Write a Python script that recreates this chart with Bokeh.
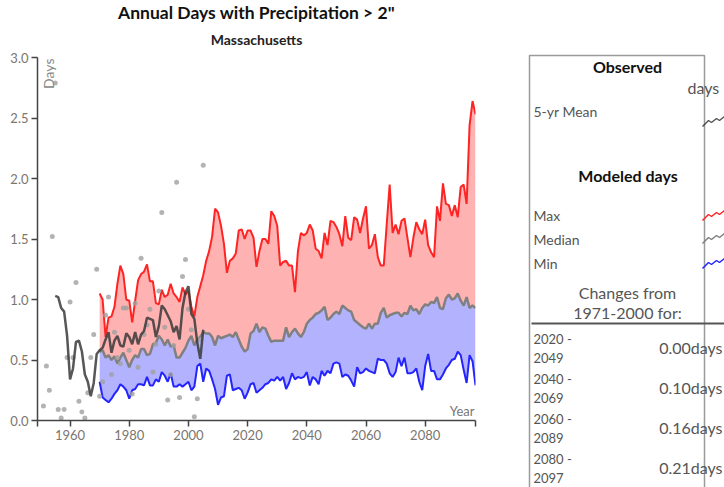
from math import pi
from bokeh.plotting import figure
from bokeh.layouts import row
from bokeh.models import Range1d, FixedTicker, Label, Title, PrintfTickFormatter
from bokeh.embed import file_html
from bokeh.resources import INLINE
from bokeh.core.properties import value

FONT = "Lato"

# ---------------- data ----------------
obs_years = list(range(1951, 2006))
obs_days = [0.12, 0.45, 0.25, 1.52, 2.79, 0.09, 0.02, 0.09, 0.52, 0.98,
            0.52, 1.14, 0.16, 0.07, 0.02, 0.23, 0.52, 0.71, 1.25, 0.20,
            0.32, 0.87, 1.02, 0.38, 0.73, 0.52, 0.47, 0.93, 0.93, 0.58,
            0.22, 0.97, 0.44, 1.34, 0.71, 0.79, 0.92, 0.40, 0.63, 1.07,
            1.72, 0.77, 0.17, 0.38, 0.62, 1.97, 0.19, 1.19, 1.33, 0.92,
            0.75, 0.03, 0.18, 0.67, 2.11]

mean_years = list(range(1955, 2006))
mean_days = [1.03, 1.02, 0.93, 0.90, 0.70, 0.34, 0.43, 0.65, 0.66, 0.57,
             0.38, 0.32, 0.20, 0.31, 0.55, 0.58, 0.60, 0.67, 0.73, 0.56,
             0.66, 0.70, 0.62, 0.61, 0.72, 0.69, 0.63, 0.73, 0.63, 0.71,
             0.74, 0.85, 0.84, 0.83, 0.69, 0.78, 0.95, 0.92, 0.87, 0.82,
             0.73, 0.78, 0.67, 0.93, 1.06, 1.11, 0.88, 0.84, 0.64, 0.51,
             0.75]

model_years = list(range(1970, 2098))
model_max = [1.05, 1.00, 0.69, 0.85, 0.86, 0.94, 1.13, 1.28, 1.21, 1.00,
             0.99, 0.81, 0.99, 1.16, 1.21, 1.23, 1.29, 1.15, 1.15, 0.97,
             0.96, 1.08, 1.02, 1.04, 1.13, 1.05, 1.02, 0.98, 1.10, 1.04,
             1.07, 0.94, 0.86, 1.02, 1.11, 1.20, 1.32, 1.40, 1.52, 1.75,
             1.72, 1.61, 1.46, 1.22, 1.32, 1.34, 1.38, 1.57, 1.58, 1.50,
             1.57, 1.57, 1.51, 1.27, 1.40, 1.50, 1.50, 1.46, 1.73, 1.69,
             1.61, 1.28, 1.31, 1.32, 1.28, 1.28, 1.06, 1.40, 1.55, 1.53,
             1.55, 1.62, 1.57, 1.42, 1.40, 1.34, 1.55, 1.45, 1.65, 1.64,
             1.60, 1.54, 1.44, 1.69, 1.51, 1.49, 1.68, 1.66, 1.55, 1.67,
             1.77, 1.42, 1.45, 1.54, 1.35, 1.28, 1.28, 1.62, 1.95, 1.55,
             1.62, 1.54, 1.65, 1.67, 1.51, 1.35, 1.51, 1.64, 1.58, 1.54,
             1.66, 1.45, 1.39, 1.35, 1.77, 1.65, 1.96, 1.79, 1.78, 1.69,
             1.78, 1.68, 1.93, 1.95, 1.79, 2.44, 2.64, 2.53]
model_median = [0.57, 0.58, 0.52, 0.54, 0.50, 0.53, 0.47, 0.52, 0.56, 0.50,
                0.44, 0.50, 0.54, 0.52, 0.59, 0.59, 0.54, 0.55, 0.63, 0.64,
                0.70, 0.67, 0.62, 0.67, 0.61, 0.62, 0.52, 0.52, 0.56, 0.60,
                0.66, 0.70, 0.62, 0.67, 0.69, 0.73, 0.72, 0.72, 0.69, 0.62,
                0.70, 0.68, 0.69, 0.70, 0.71, 0.69, 0.73, 0.67, 0.61, 0.57,
                0.59, 0.72, 0.74, 0.80, 0.73, 0.77, 0.76, 0.70, 0.65, 0.66,
                0.66, 0.66, 0.66, 0.77, 0.69, 0.73, 0.76, 0.72, 0.69, 0.73,
                0.80, 0.83, 0.85, 0.88, 0.89, 0.91, 0.94, 0.83, 0.85, 0.88,
                0.90, 0.88, 0.95, 0.93, 0.91, 0.90, 0.83, 0.81, 0.79, 0.77,
                0.76, 0.80, 0.76, 0.80, 0.80, 0.89, 0.93, 0.85, 0.87, 0.88,
                0.89, 0.89, 0.86, 0.89, 0.88, 0.95, 0.91, 0.92, 0.88, 0.93,
                0.96, 0.95, 0.98, 0.97, 1.02, 0.93, 0.92, 1.01, 1.04, 1.00,
                1.01, 1.05, 0.99, 0.95, 1.02, 0.93, 0.95, 0.93]
model_min = [0.32, 0.19, 0.17, 0.15, 0.18, 0.22, 0.25, 0.30, 0.28, 0.25,
             0.18, 0.25, 0.26, 0.30, 0.30, 0.29, 0.36, 0.29, 0.29, 0.34,
             0.32, 0.40, 0.37, 0.32, 0.39, 0.28, 0.28, 0.30, 0.28, 0.30,
             0.32, 0.25, 0.28, 0.45, 0.47, 0.32, 0.43, 0.41, 0.34, 0.26,
             0.13, 0.19, 0.20, 0.37, 0.38, 0.25, 0.26, 0.27, 0.25, 0.18,
             0.23, 0.30, 0.31, 0.23, 0.25, 0.27, 0.30, 0.31, 0.34, 0.33,
             0.36, 0.33, 0.36, 0.26, 0.31, 0.39, 0.34, 0.36, 0.35, 0.36,
             0.40, 0.29, 0.36, 0.34, 0.30, 0.41, 0.37, 0.41, 0.39, 0.47,
             0.48, 0.47, 0.36, 0.38, 0.37, 0.33, 0.28, 0.44, 0.39, 0.40,
             0.43, 0.41, 0.40, 0.39, 0.51, 0.50, 0.50, 0.47, 0.39, 0.36,
             0.40, 0.52, 0.45, 0.52, 0.39, 0.39, 0.40, 0.43, 0.32, 0.25,
             0.45, 0.55, 0.41, 0.41, 0.34, 0.34, 0.38, 0.43, 0.46, 0.50,
             0.51, 0.57, 0.54, 0.42, 0.31, 0.54, 0.49, 0.29]

x_ticks = [1949, 1960, 1980, 2000, 2020, 2040, 2060, 2080, 2097]
x_tick_labels = {1949: "", 2097: ""}
y_ticks = [0.0, 0.5, 1.0, 1.5, 2.0, 2.5, 3.0]

title_text = 'Annual Days with Precipitation > 2"'
subtitle_text = "Massachusetts"
y_label = "Days"
x_label = "Year"

legend_obs_title = "Observed"
legend_unit = "days"
legend_obs_items = ["5-yr Mean"]
legend_model_title = "Modeled days"
legend_model_items = ["Max", "Median", "Min"]
changes_title = ["Changes from", "1971-2000 for:"]
change_start = ["2020 -", "2040 -", "2060 -", "2080 -"]
change_end = ["2049", "2069", "2089", "2097"]
change_values = ["0.00days", "0.10days", "0.16days", "0.21days"]

RED = "#ff2424"
BLUE = "#2424ff"
GREY = "#808080"
DARK = "#3a3a3a"

W_MAIN, W_LEG, H = 508, 216, 487

# ---------------- main chart ----------------
p = figure(width=W_MAIN, height=H, x_range=Range1d(1949, 2097), y_range=Range1d(0, 3),
           output_backend="svg", toolbar_location=None,
           min_border_left=37, min_border_right=33, min_border_top=57, min_border_bottom=67)
p.frame_align = False
p.outline_line_color = None
p.xgrid.visible = False
p.ygrid.visible = False
p.background_fill_color = "white"
p.border_fill_color = "white"

p.add_layout(Title(text=subtitle_text, align="center", text_font=FONT, text_font_size="14px",
                   text_font_style="bold", text_color="#222222", standoff=19), "above")
p.add_layout(Title(text=title_text, align="center", text_font=FONT, text_font_size="17.5px",
                   text_font_style="bold", text_color="#111111", standoff=-6), "above")

for ax in (p.xaxis[0], p.yaxis[0]):
    ax.axis_line_color = "#444444"
    ax.axis_line_width = 1.5
    ax.major_tick_line_color = "#444444"
    ax.major_tick_line_width = 1.5
    ax.major_tick_out = 6
    ax.major_tick_in = 0
    ax.minor_tick_line_color = None
    ax.major_label_text_font = FONT
    ax.major_label_text_font_size = "13px"
    ax.major_label_text_color = "#7a7570"
    ax.major_label_standoff = 3

p.xaxis[0].ticker = FixedTicker(ticks=x_ticks)
p.xaxis[0].major_label_overrides = x_tick_labels
p.yaxis[0].ticker = FixedTicker(ticks=y_ticks)
p.yaxis[0].formatter = PrintfTickFormatter(format="%.1f")

# modeled ranges
p.varea(x=model_years, y1=model_median, y2=model_max, fill_color="#ffb2b2")
p.varea(x=model_years, y1=model_min, y2=model_median, fill_color="#b2b2ff")
p.line(model_years, model_median, line_color=GREY, line_width=2.5)
p.line(model_years, model_max, line_color=RED, line_width=2)
p.line(model_years, model_min, line_color=BLUE, line_width=2)

# observed
p.scatter(obs_years, obs_days, size=5, fill_color="#a0a0a0", line_color=None, fill_alpha=0.8)
p.line(mean_years, mean_days, line_color=DARK, line_width=2.5, line_alpha=0.85)

p.add_layout(Label(x=11, y=362, x_units="screen", y_units="screen", text=y_label, angle=pi / 2,
                   text_align="right", text_baseline="middle", text_font=FONT,
                   text_font_size="14px", text_color="#888888"))
p.add_layout(Label(x=437, y=10, x_units="screen", y_units="screen", text=x_label,
                   text_align="right", text_baseline="middle", text_font=FONT,
                   text_font_size="13px", text_color="#777777"))

# ---------------- legend panel ----------------
leg = figure(width=W_LEG, height=H, x_range=Range1d(0, W_LEG), y_range=Range1d(H, 0),
             output_backend="svg", toolbar_location=None, x_axis_type=None, y_axis_type=None,
             min_border=0)
leg.frame_align = False
leg.outline_line_color = None
leg.xgrid.visible = False
leg.ygrid.visible = False

leg.quad(left=[21], right=[196], top=[55], bottom=[540], fill_color=None,
         line_color="#9a9a9a", line_width=1.5)
leg.line(x=[23, W_LEG], y=[323, 323], line_color="#555555", line_width=2)


def txt(x, y, t, size, align="left", bold=False, color="#555555"):
    leg.text(x=[x], y=[y], text=[t], text_font=value(FONT), text_font_size=size,
             text_align=align, text_baseline="middle", text_color=color,
             text_font_style="bold" if bold else "normal")


txt(119, 66, legend_obs_title, "16px", "center", True, "#111111")
txt(179, 87, legend_unit, "16px", "left", False, "#555555")
txt(25, 111, legend_obs_items[0], "14px")
txt(119.5, 175, legend_model_title, "16px", "center", True, "#111111")
for name, yy in zip(legend_model_items, [215, 239, 263]):
    txt(25, yy, name, "14px")
txt(119, 292, changes_title[0], "16px", "center")
txt(119, 312, changes_title[1], "16px", "center")
for i, (a, b, v) in enumerate(zip(change_start, change_end, change_values)):
    base = 338 + 40 * i
    txt(25, base, a, "13px")
    txt(25, base + 19, b, "13px")
    txt(214, base + 9, v, "16px", "right")

# legend icons (small zigzag swatches)
zig_dx = [0, 6, 9, 14, 17, 22]
zig_dy = [0, -6, -4, -8, -6, -10]
for base_y, col, alpha in [(126, DARK, 0.85), (220, RED, 1), (243, GREY, 1), (268, BLUE, 1)]:
    leg.line(x=[194 + d for d in zig_dx], y=[base_y + d for d in zig_dy],
             line_color=col, line_width=1.5, line_alpha=alpha)

layout = row(p, leg)
open("out.html", "w").write(file_html(layout, INLINE))
